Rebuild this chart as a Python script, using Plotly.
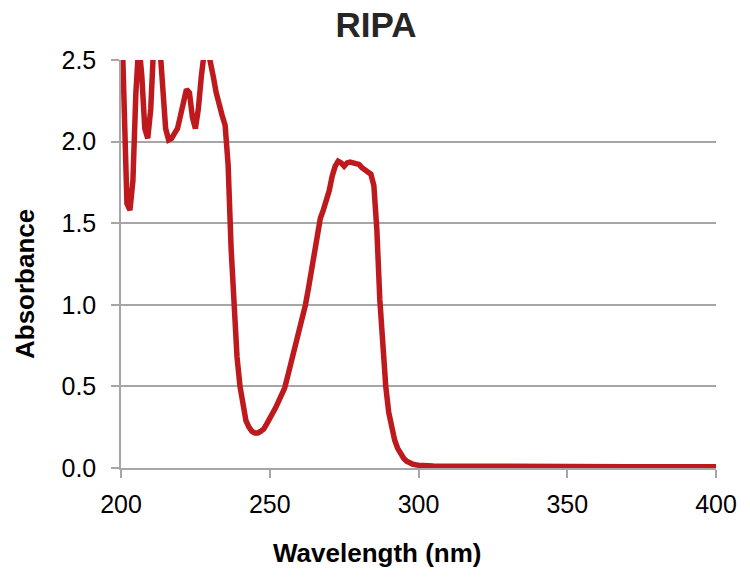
import plotly.graph_objects as go

wavelength = [200, 201, 202, 203, 204, 205, 206, 207, 208, 209,
              210, 211, 212, 213, 214, 215, 216, 217, 218, 219,
              220, 221, 222, 223, 224, 225, 226, 227, 228, 229,
              230, 231, 232, 233, 234, 235, 236, 237, 238, 239,
              240, 241, 242, 243, 244, 245, 246, 247, 248, 249,
              250, 251, 252, 253, 254, 255, 256, 257, 258, 259,
              260, 261, 262, 263, 264, 265, 266, 267, 268, 269,
              270, 271, 272, 273, 274, 275, 276, 277, 278, 279,
              280, 281, 282, 283, 284, 285, 286, 287, 288, 289,
              290, 291, 292, 293, 294, 295, 296, 297, 298, 299,
              300, 305, 310, 320, 330, 340, 350, 360, 370, 380, 390, 400]

absorbance = [2.90, 2.30, 1.62, 1.58, 1.76, 2.30, 2.60, 2.40, 2.08, 2.02,
              2.20, 2.60, 2.65, 2.60, 2.30, 2.08, 2.01, 2.02, 2.05, 2.08,
              2.16, 2.25, 2.32, 2.30, 2.15, 2.08, 2.20, 2.40, 2.55, 2.58,
              2.50, 2.40, 2.30, 2.22, 2.16, 2.10, 1.86, 1.35, 0.95, 0.68,
              0.50, 0.37, 0.29, 0.25, 0.225, 0.215, 0.215, 0.225, 0.24, 0.27,
              0.30, 0.33, 0.37, 0.41, 0.45, 0.49, 0.56, 0.63, 0.71, 0.80,
              0.87, 0.93, 1.00, 1.10, 1.20, 1.32, 1.44, 1.53, 1.58, 1.63,
              1.70, 1.79, 1.85, 1.88, 1.87, 1.85, 1.87, 1.875, 1.87, 1.865,
              1.86, 1.84, 1.825, 1.81, 1.80, 1.73, 1.46, 1.03, 0.74, 0.50,
              0.34, 0.24, 0.17, 0.12, 0.085, 0.06, 0.042, 0.03, 0.024, 0.02,
              0.017, 0.013, 0.012, 0.011, 0.010, 0.009, 0.008, 0.008, 0.007, 0.007, 0.007, 0.007]

x_ticks = [200, 250, 300, 350, 400]
y_ticks = [0.0, 0.5, 1.0, 1.5, 2.0, 2.5]

FONT = "Liberation Sans, Arial, sans-serif"
GRID = "#A6A6A6"
W, H = 750, 577

fig = go.Figure()
fig.add_trace(go.Scatter(
    x=wavelength, y=absorbance, mode="lines",
    line=dict(color="#BE1A1E", width=5.5),
    showlegend=False, hoverinfo="x+y"))

fig.update_layout(
    width=W, height=H,
    margin=dict(l=121, r=34, t=60, b=109),
    paper_bgcolor="white", plot_bgcolor="white",
    font=dict(family=FONT, color="black"),
    title=dict(text="<b>RIPA</b>", x=376 / W, xref="container", xanchor="center",
               y=1 - 25 / H, yref="container", yanchor="middle",
               font=dict(family=FONT, size=35, color="#262626")),
    xaxis=dict(range=[200, 400], tickvals=x_ticks, ticktext=[str(v) for v in x_ticks],
               showgrid=False, zeroline=False,
               showline=True, linecolor=GRID, linewidth=1.5,
               ticks="outside", ticklen=8, tickcolor=GRID, tickwidth=1.5,
               ticklabelstandoff=5,
               tickfont=dict(family=FONT, size=25, color="black")),
    yaxis=dict(range=[0, 2.5], tickvals=y_ticks, ticktext=[f"{v:.1f}" for v in y_ticks],
               showgrid=True, gridcolor=GRID, gridwidth=1.5, zeroline=False,
               showline=True, linecolor=GRID, linewidth=1.5,
               ticks="outside", ticklen=8, tickcolor=GRID, tickwidth=1.5,
               ticklabelstandoff=10,
               tickfont=dict(family=FONT, size=25, color="black")),
    annotations=[
        dict(text="<b>Wavelength (nm)</b>", xref="paper", yref="paper",
             x=(377 - 121) / (W - 121 - 34), y=-(553 - 468) / (H - 60 - 109),
             xanchor="center", yanchor="middle", showarrow=False,
             font=dict(family=FONT, size=26, color="black")),
        dict(text="<b>Absorbance</b>", xref="paper", yref="paper",
             x=-(121 - 25) / (W - 121 - 34), y=(468 - 284) / (H - 60 - 109),
             xanchor="center", yanchor="middle", textangle=-90, showarrow=False,
             font=dict(family=FONT, size=26, color="black")),
    ],
)

fig.write_html("out.html")
